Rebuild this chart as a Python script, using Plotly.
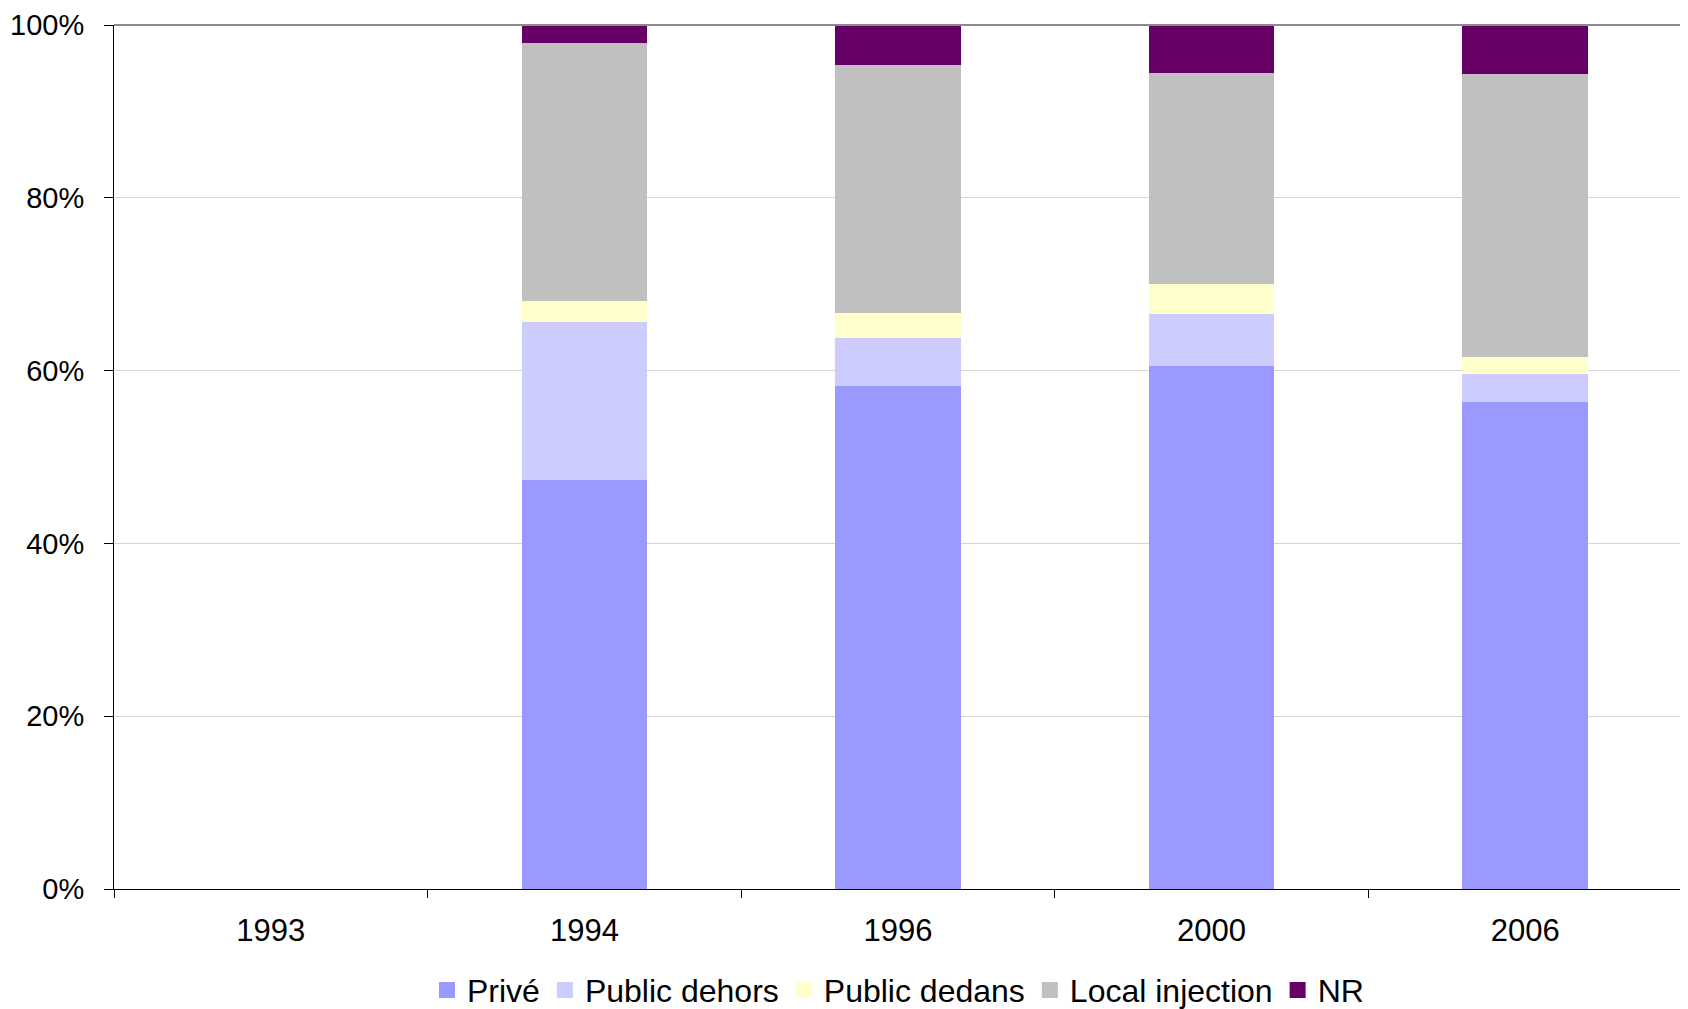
import plotly.graph_objects as go

# years on the x axis (1993 has no data)
years = ["1993", "1994", "1996", "2000", "2006"]

# shares in %
prive = [None, 47.3, 58.2, 60.5, 56.4]
public_dehors = [None, 18.3, 5.6, 6.1, 3.2]
public_dedans = [None, 2.5, 2.9, 3.4, 2.0]
local_injection = [None, 29.8, 28.7, 24.4, 32.7]
nr = [None, 2.1, 4.6, 5.6, 5.7]

series = {
    "Privé": (prive, "#9999FF"),
    "Public dehors": (public_dehors, "#CCCCFF"),
    "Public dedans": (public_dedans, "#FFFFCC"),
    "Local injection": (local_injection, "#C0C0C0"),
    "NR": (nr, "#660066"),
}

fig = go.Figure()
for name in series:
    vals, col = series[name]
    fig.add_trace(go.Bar(x=years, y=vals, name=name, showlegend=False,
                         marker=dict(color=col, line=dict(width=0))))
# legend entries with bigger square keys, like the original
for name in series:
    vals, col = series[name]
    fig.add_trace(go.Scatter(x=[years[0]], y=[None], name=name, mode="markers",
                             marker=dict(symbol="square", size=21, color=col)))

# page body has an 8px margin, so the figure is sized to fit the window
fig.update_layout(
    barmode="stack",
    bargap=0.6,
    width=1680, height=1001,
    margin=dict(l=106, r=6, t=17, b=120, autoexpand=False),
    plot_bgcolor="white",
    paper_bgcolor="white",
    font=dict(family="Liberation Sans, Arial, sans-serif", size=31, color="black"),
    legend=dict(orientation="h", x=0.5, xanchor="center", y=-0.117, yanchor="middle",
                font=dict(size=32), traceorder="normal", itemwidth=30,
                tracegroupgap=0),
)
fig.update_xaxes(
    type="category",
    showline=True, linecolor="black", linewidth=1,
    ticks="outside", tickson="boundaries", ticklen=8, tickcolor="black",
    ticklabelstandoff=14,
    showgrid=False,
)
fig.update_yaxes(
    range=[0, 100], dtick=20, ticksuffix="%",
    showline=True, linecolor="black", linewidth=1,
    ticks="outside", ticklen=9, tickcolor="black",
    ticklabelstandoff=14, ticklabeloverflow="allow",
    tickfont=dict(size=29),
    showgrid=True, gridcolor="#d4d4d4", gridwidth=1,
    zeroline=False,
)
# grey plot-area border on top and right
fig.add_shape(type="line", xref="paper", yref="paper", x0=0, x1=1, y0=1, y1=1,
              line=dict(color="#8c8c8c", width=2))
fig.add_shape(type="line", xref="paper", yref="paper", x0=1, x1=1, y0=0, y1=1,
              line=dict(color="#8c8c8c", width=1))

fig.write_html("out.html")
